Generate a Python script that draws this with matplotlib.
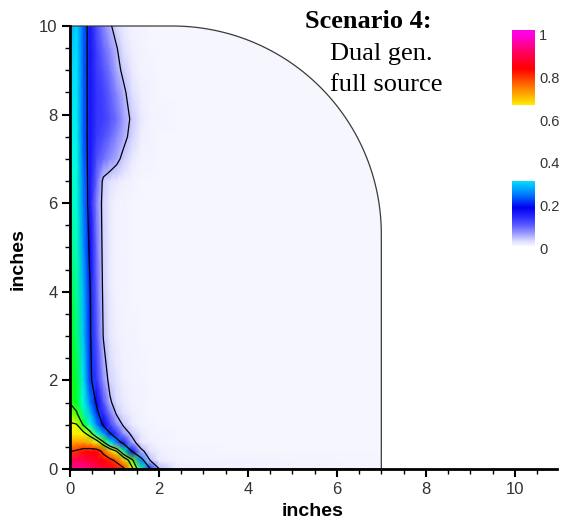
import numpy as np
import matplotlib
matplotlib.use("Agg")
import matplotlib.pyplot as plt
from matplotlib.colors import LinearSegmentedColormap
from matplotlib.path import Path
from matplotlib.patches import PathPatch

# ---------- dados ----------
x_nodes = [0, 0.15, 0.3, 0.45, 0.6, 0.75, 0.9, 1.05, 1.2, 1.4, 1.6, 1.8, 2.0, 2.4, 3.5, 7.0]
y_nodes = [0, 0.2, 0.4, 0.6, 0.8, 1.0, 1.25, 1.5, 2.0, 3.0, 4.0, 5.0, 6.0, 6.5,
           7.0, 7.5, 7.9, 8.5, 9.0, 9.5, 10.0]

# uma linha por valor de y (de baixo para cima)
conc = [
    [0.96, 0.96, 0.95, 0.93, 0.91, 0.89, 0.87, 0.85, 0.82, 0.62, 0.40, 0.21, 0.052, 0.02, 0.015, 0.01],
    [0.90, 0.91, 0.90, 0.88, 0.86, 0.84, 0.82, 0.78, 0.70, 0.52, 0.25, 0.048, 0.02, 0.015, 0.012, 0.01],
    [0.795, 0.81, 0.83, 0.84, 0.84, 0.78, 0.70, 0.60, 0.40, 0.19, 0.06, 0.03, 0.018, 0.013, 0.011, 0.01],
    [0.72, 0.73, 0.73, 0.71, 0.67, 0.52, 0.35, 0.25, 0.17, 0.065, 0.025, 0.016, 0.013, 0.011, 0.01, 0.01],
    [0.66, 0.66, 0.63, 0.55, 0.38, 0.28, 0.205, 0.14, 0.075, 0.04, 0.02, 0.014, 0.012, 0.011, 0.01, 0.01],
    [0.61, 0.605, 0.49, 0.36, 0.26, 0.19, 0.13, 0.08, 0.045, 0.022, 0.015, 0.012, 0.011, 0.01, 0.01, 0.01],
    [0.56, 0.51, 0.40, 0.30, 0.22, 0.15, 0.09, 0.045, 0.03, 0.018, 0.013, 0.011, 0.01, 0.01, 0.01, 0.01],
    [0.495, 0.46, 0.36, 0.26, 0.19, 0.12, 0.055, 0.035, 0.02, 0.014, 0.012, 0.011, 0.01, 0.01, 0.01, 0.01],
    [0.49, 0.45, 0.33, 0.22, 0.14, 0.075, 0.038, 0.024, 0.017, 0.013, 0.012, 0.011, 0.01, 0.01, 0.01, 0.01],
    [0.47, 0.42, 0.30, 0.21, 0.115, 0.048, 0.024, 0.016, 0.013, 0.012, 0.011, 0.01, 0.01, 0.01, 0.01, 0.01],
    [0.45, 0.40, 0.29, 0.205, 0.105, 0.042, 0.022, 0.015, 0.012, 0.011, 0.011, 0.01, 0.01, 0.01, 0.01, 0.01],
    [0.42, 0.38, 0.27, 0.185, 0.095, 0.038, 0.021, 0.015, 0.012, 0.011, 0.01, 0.01, 0.01, 0.01, 0.01, 0.01],
    [0.38, 0.37, 0.255, 0.17, 0.085, 0.036, 0.021, 0.015, 0.012, 0.011, 0.01, 0.01, 0.01, 0.01, 0.01, 0.01],
    [0.37, 0.37, 0.25, 0.17, 0.10, 0.04, 0.03, 0.022, 0.016, 0.012, 0.011, 0.01, 0.01, 0.01, 0.01, 0.01],
    [0.35, 0.36, 0.245, 0.17, 0.12, 0.095, 0.075, 0.06, 0.04, 0.02, 0.014, 0.012, 0.011, 0.01, 0.01, 0.01],
    [0.34, 0.35, 0.24, 0.17, 0.135, 0.12, 0.10, 0.08, 0.062, 0.036, 0.016, 0.013, 0.011, 0.01, 0.01, 0.01],
    [0.33, 0.34, 0.24, 0.17, 0.14, 0.13, 0.115, 0.095, 0.07, 0.042, 0.02, 0.014, 0.012, 0.011, 0.01, 0.01],
    [0.32, 0.33, 0.24, 0.17, 0.14, 0.125, 0.105, 0.08, 0.058, 0.03, 0.016, 0.013, 0.011, 0.01, 0.01, 0.01],
    [0.31, 0.33, 0.24, 0.17, 0.135, 0.115, 0.09, 0.062, 0.042, 0.02, 0.014, 0.012, 0.011, 0.01, 0.01, 0.01],
    [0.30, 0.32, 0.24, 0.17, 0.13, 0.10, 0.075, 0.052, 0.03, 0.017, 0.013, 0.011, 0.01, 0.01, 0.01, 0.01],
    [0.28, 0.31, 0.24, 0.17, 0.12, 0.085, 0.056, 0.032, 0.02, 0.014, 0.012, 0.011, 0.01, 0.01, 0.01, 0.01],
]

line_levels = [0.05, 0.2, 0.5, 0.6, 0.8]
legend_ticks = [0, 0.2, 0.4, 0.6, 0.8, 1]
legend_labels = ["0", "0.2", "0.4", "0.6", "0.8", "1"]
legend_segments = [(0.01, 0.315), (0.67, 1.02)]

# geometria do domínio (canto arredondado)
arc_cx, arc_cy, arc_r = 2.3, 5.3, 4.7

# ---------- colormap estilo Tecplot ----------
cmap = LinearSegmentedColormap.from_list("tec", [
    (0.00, "#fbfbff"), (0.012, "#f3f3ff"), (0.03, "#dedeff"), (0.06, "#a8a8ff"),
    (0.10, "#6464ff"), (0.14, "#3030ff"), (0.19, "#0000f0"), (0.25, "#0078ff"),
    (0.31, "#00d8ff"), (0.36, "#00ffe0"), (0.42, "#00ff70"), (0.48, "#00ff00"),
    (0.56, "#a0ff00"), (0.62, "#ffff00"), (0.67, "#ffee00"), (0.75, "#ff8000"),
    (0.84, "#ff0000"), (0.92, "#ff0060"), (1.00, "#ff00e0"),
])

X, Y = np.meshgrid(x_nodes, y_nodes)
Z = np.array(conc)

fig = plt.figure(figsize=(5.63, 5.21), dpi=100)
ax = fig.add_axes([70 / 563, 52 / 521, 487 / 563, 443 / 521])

theta = np.radians(np.linspace(0, 90, 80))
arc = np.column_stack([arc_cx + arc_r * np.cos(theta), arc_cy + arc_r * np.sin(theta)])
verts = np.vstack([[[0, 0], [7, 0]], arc, [[0, 10], [0, 0]]])
domain = Path(verts)

mesh = ax.pcolormesh(X, Y, Z, shading="gouraud", cmap=cmap, vmin=0, vmax=1)
cs = ax.contour(X, Y, Z, levels=line_levels, colors="k", linewidths=0.9)
clip = PathPatch(domain, transform=ax.transData, facecolor="none", edgecolor="none")
ax.add_patch(clip)
mesh.set_clip_path(clip)
cs.set_clip_path(clip)

outline = PathPatch(domain, facecolor="none", edgecolor="#3a3a3a", lw=0.9, clip_on=False)
ax.add_patch(outline)

ax.set_xlim(0, 10.95)
ax.set_ylim(0, 10)
for s in ["top", "right"]:
    ax.spines[s].set_visible(False)
for s in ["left", "bottom"]:
    ax.spines[s].set_linewidth(2)
ax.set_xticks(range(0, 11, 2))
ax.set_yticks(range(0, 11, 2))
ax.set_xticks(np.arange(0, 11, 0.5), minor=True)
ax.set_yticks(np.arange(0, 10.01, 0.5), minor=True)
ax.tick_params(which="major", length=6, width=1.5, direction="out",
               labelsize=12, labelcolor="#333333", pad=3)
ax.tick_params(which="minor", length=3.5, width=1, direction="out")
for lab in ax.get_xticklabels() + ax.get_yticklabels():
    lab.set_family("Liberation Sans")

fig.text(313 / 563, 1 - 511 / 521, "inches", ha="center", va="center",
         fontsize=14, fontweight="bold", family="Liberation Sans")
fig.text(18 / 563, 1 - 259 / 521, "inches", ha="center", va="center", rotation=90,
         fontsize=14, fontweight="bold", family="Liberation Sans")

fig.text(305 / 563, 1 - 28 / 521, "Scenario 4:", fontsize=19, fontweight="bold",
         family="Liberation Serif", va="baseline")
fig.text(330 / 563, 1 - 60 / 521, "Dual gen.", fontsize=19,
         family="Liberation Serif", va="baseline")
fig.text(330 / 563, 1 - 91 / 521, "full source", fontsize=19,
         family="Liberation Serif", va="baseline")

# ---------- legenda (barra de cores em dois trechos) ----------
cax = fig.add_axes([512 / 563, (521 - 248) / 521, 23 / 563, 219.4 / 521])
for lo, hi in legend_segments:
    grad = np.linspace(lo, hi, 200).reshape(-1, 1)
    cax.imshow(grad, extent=[0, 1, lo, hi], origin="lower", aspect="auto",
               cmap=cmap, vmin=0, vmax=1)
cax.set_xlim(0, 1)
cax.set_ylim(0, 1.03)
for s in cax.spines.values():
    s.set_visible(False)
cax.set_xticks([])
cax.yaxis.tick_right()
cax.set_yticks(legend_ticks)
cax.set_yticklabels(legend_labels, family="Liberation Sans", fontsize=10.5, color="#333333")
cax.tick_params(axis="y", length=0, pad=3)

fig.savefig("out.png", dpi=100)
